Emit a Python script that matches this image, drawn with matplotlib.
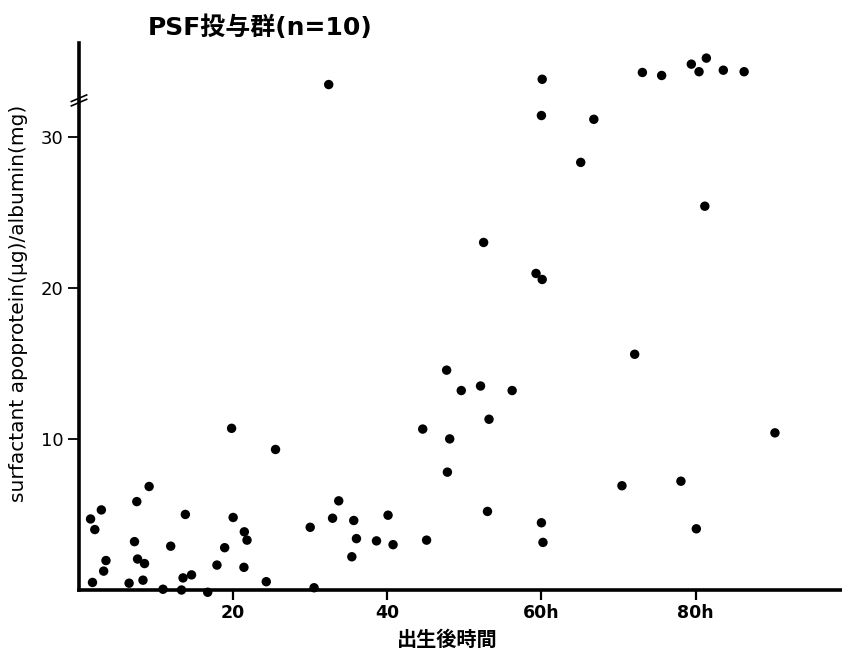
import matplotlib
matplotlib.use("Agg")
import matplotlib.pyplot as plt

plt.rcParams['font.family'] = ['DejaVu Sans', 'Noto Sans CJK JP']

title = "PSF投与群(n=10)"
xlabel = "出生後時間"
ylabel = "surfactant apoprotein(μg)/albumin(mg)"
xticks = [20, 40, 60, 80]
xticklabels = ["20", "40", "60h", "80h"]
yticks = [10, 20, 30]
yticklabels = ["10", "20", "30"]

hours = [1.5, 2.05, 1.75, 2.9, 3.5, 3.2, 6.5, 7.5, 7.2, 7.6, 8.5, 8.3, 9.1,
         10.9, 11.9, 13.3, 13.5, 13.8, 14.6, 16.7, 17.9, 18.9, 19.8, 20.0,
         21.45, 21.8, 21.4, 24.3, 25.5, 30.0, 30.5, 32.9, 33.7, 35.65, 36.0,
         35.4, 38.6, 40.1, 40.75, 44.6, 45.1, 49.6, 52.1, 56.2, 53.2, 48.1,
         47.8, 53.0, 60.0, 60.2, 70.45, 78.1, 80.1, 90.3, 81.2, 52.5, 59.3,
         60.1, 72.1, 47.7, 60.1, 60.0, 66.8, 65.1, 73.1, 75.6, 79.45, 81.4,
         80.45, 83.6, 86.3, 32.4]
ratio = [4.7, 4.0, 0.5, 5.3, 1.95, 1.25, 0.45, 5.85, 3.2, 2.05, 1.75, 0.65,
         6.85, 0.05, 2.9, 0.0, 0.8, 5.0, 1.0, -0.15, 1.65, 2.8, 10.7, 4.8,
         3.85, 3.3, 1.5, 0.55, 9.3, 4.15, 0.15, 4.75, 5.9, 4.6, 3.4, 2.2,
         3.25, 4.95, 3.0, 10.65, 3.3, 13.2, 13.5, 13.2, 11.3, 10.0, 7.8,
         5.2, 4.45, 3.15, 6.9, 7.2, 4.05, 10.4, 25.4, 23.0, 20.95, 20.55,
         15.6, 14.55, 33.8, 31.4, 31.15, 28.3, 34.25, 34.05, 34.8, 35.2,
         34.3, 34.4, 34.3, 33.45]

W, H = 842, 665
fig = plt.figure(figsize=(W / 100, H / 100), dpi=100)
L, R, B, T = 79 / W, 1.0, 1 - 590 / H, 1 - 43 / H
ax = fig.add_axes([L, B, R - L, T - B])

ax.scatter(hours, ratio, s=46, color='black', edgecolors='none', zorder=3,
           clip_on=False)

ax.set_xlim(0, 99)
ax.set_ylim(0, 36.2)

for s in ['top', 'right']:
    ax.spines[s].set_visible(False)
for s in ['left', 'bottom']:
    ax.spines[s].set_linewidth(2.6)
    ax.spines[s].set_color('black')

ax.set_xticks(xticks)
ax.set_xticklabels(xticklabels, fontsize=12.5, fontweight='bold')
ax.set_yticks(yticks)
ax.set_yticklabels(yticklabels, fontsize=13)
ax.tick_params(axis='y', direction='out', length=8, width=1.3, pad=3,
               colors='black')
ax.tick_params(axis='x', direction='out', length=7, width=1.6, pad=3,
               colors='black')

# axis break marks on the y spine
ybreak = 32.4 / 36.2
trans = ax.transAxes
dx, dy = 0.010, 0.006
ax.plot([-dx, dx], [ybreak - dy - 0.004, ybreak + dy - 0.004], transform=trans,
        color='black', lw=1.2, clip_on=False, zorder=5)
ax.plot([-dx, dx], [ybreak - dy + 0.004, ybreak + dy + 0.004], transform=trans,
        color='black', lw=1.2, clip_on=False, zorder=5)

ax.set_xlabel(xlabel, fontsize=14.5, family=['Noto Sans CJK JP'], fontweight='bold')
ax.xaxis.set_label_coords(0.483, -0.072)
ax.set_ylabel(ylabel, fontsize=14.5)
ax.yaxis.set_label_coords(-0.067, 0.524)

fig.text(148 / W, 1 - 28 / H, title, fontsize=18, fontweight='bold',
         family=['DejaVu Sans', 'Noto Sans CJK JP'], va='center', ha='left')

fig.savefig("out.png", dpi=100, facecolor='white')
